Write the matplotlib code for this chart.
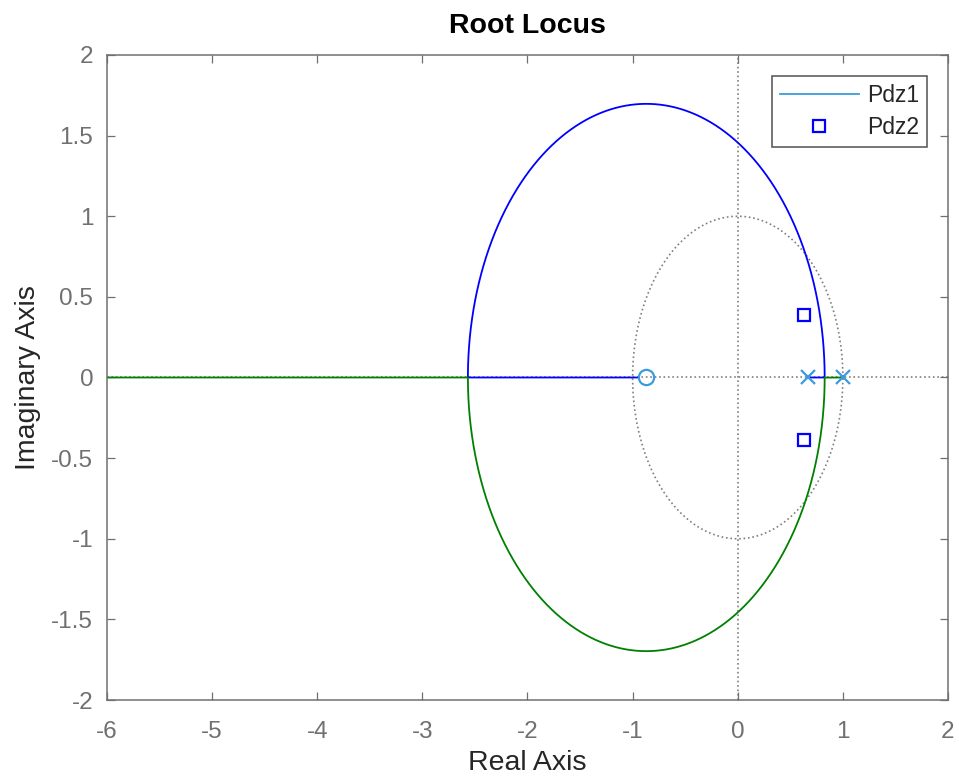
import numpy as np
import matplotlib
matplotlib.use("Agg")
import matplotlib.pyplot as plt

plt.rcParams['font.family'] = ['Liberation Sans', 'DejaVu Sans']
plt.rcParams['axes.unicode_minus'] = False

# Data
poles = [0.67, 1.0]           # open-loop poles (Pdz1, 'x')
zeros = [-0.87]               # open-loop zero (Pdz1, 'o')
pdz2_real = [0.63, 0.63]      # Pdz2 poles (squares)
pdz2_imag = [0.39, -0.39]
xticks = [-6, -5, -4, -3, -2, -1, 0, 1, 2]
yticks = [-2, -1.5, -1, -0.5, 0, 0.5, 1, 1.5, 2]
ytick_labels = ['-2', '-1.5', '-1', '-0.5', '0', '0.5', '1', '1.5', '2']

# Root locus of K(s - z)/((s - p1)(s - p2)): roots of (s-p1)(s-p2) + K(s-z)
p1, p2 = poles
z = zeros[0]
k_break = np.sort(np.roots([1.0, 4 * z - 2 * (p1 + p2), (p1 - p2) ** 2]).real)
offs = np.geomspace(1e-9, 0.5, 300)
gains = np.concatenate([np.linspace(0, 40, 8000)] +
                       [kb + offs for kb in k_break] + [kb - offs for kb in k_break] +
                       [k_break])
gains = np.unique(gains[gains >= 0])
b_coef = -(p1 + p2) + gains
c_coef = p1 * p2 - gains * z
disc = b_coef ** 2 - 4 * c_coef
disc[np.isin(gains, k_break)] = 0.0
sq = np.sqrt(disc.astype(complex))
r_a = (-b_coef + sq) / 2
r_b = (-b_coef - sq) / 2
blue = np.empty_like(r_a)
green = np.empty_like(r_a)
for i in range(len(gains)):
    a, b = r_a[i], r_b[i]
    if disc[i] < 0:
        hi, lo = (a, b) if a.imag > 0 else (b, a)
        blue[i], green[i] = hi, lo
    else:
        mn, mx = (a, b) if a.real < b.real else (b, a)
        if mn.real > z:   # before breakaway (right side)
            blue[i], green[i] = mn, mx
        else:             # after break-in (left side)
            blue[i], green[i] = mx, mn

fig = plt.figure(figsize=(9.59, 7.81), dpi=100)
ax = fig.add_axes([0.1116, 0.1037, 0.8769, 0.8259])

# grid: unit circle and axes (dotted)
th = np.linspace(0, 2 * np.pi, 400)
ax.plot(np.cos(th), np.sin(th), ':', color='#808080', lw=1.2, zorder=1)
ax.axvline(0, ls=':', color='#808080', lw=1.2, zorder=1)
ax.axhline(0, ls=':', color='#808080', lw=1.2, zorder=1)

ax.plot(blue.real, blue.imag, color='#0000FF', lw=1.3, zorder=2)
ax.plot(green.real, green.imag, color='#008000', lw=1.3, zorder=2)

mcol = '#3C9BDC'
l1, = ax.plot([], [], color=mcol, lw=1.3, label='Pdz1')
ax.plot(poles, [0] * len(poles), 'x', color=mcol, ms=10, mew=1.6, zorder=4)
ax.plot(zeros, [0] * len(zeros), 'o', mfc='none', mec=mcol, ms=11, mew=1.6, zorder=4)
l2, = ax.plot(pdz2_real, pdz2_imag, 's', mfc='none', mec='#0000FF', ms=9, mew=1.6,
              ls='none', label='Pdz2', zorder=4)

ax.set_xlim(-6, 2)
ax.set_ylim(-2, 2)
ax.set_xticks(xticks)
ax.set_yticks(yticks)
ax.set_yticklabels(ytick_labels)
ax.tick_params(direction='in', length=6, width=0.9, top=True, right=True,
               labelsize=17.5, colors='#707070', labelcolor='#707070')
ax.tick_params(axis='x', pad=15)
ax.tick_params(axis='y', pad=10)
for s in ax.spines.values():
    s.set_color('#707070')
    s.set_linewidth(1.1)

ax.set_xlabel('Real Axis', fontsize=20.5, color='#262626', labelpad=5)
ax.set_ylabel('Imaginary Axis', fontsize=20.5, color='#262626', labelpad=7)
ax.set_title('Root Locus', fontsize=20.5, fontweight='bold', pad=16)

leg = ax.legend(handles=[l1, l2], loc='upper right', bbox_to_anchor=(0.975, 0.9674),
                fontsize=16.5, frameon=True, fancybox=False, edgecolor='#262626',
                markerfirst=True, handlelength=3.45, borderpad=0.35, labelspacing=0.4,
                handletextpad=0.35, borderaxespad=0.0)
leg.get_frame().set_linewidth(1.1)
for t in leg.get_texts():
    t.set_color('#262626')

fig.savefig('out.png', dpi=100)
